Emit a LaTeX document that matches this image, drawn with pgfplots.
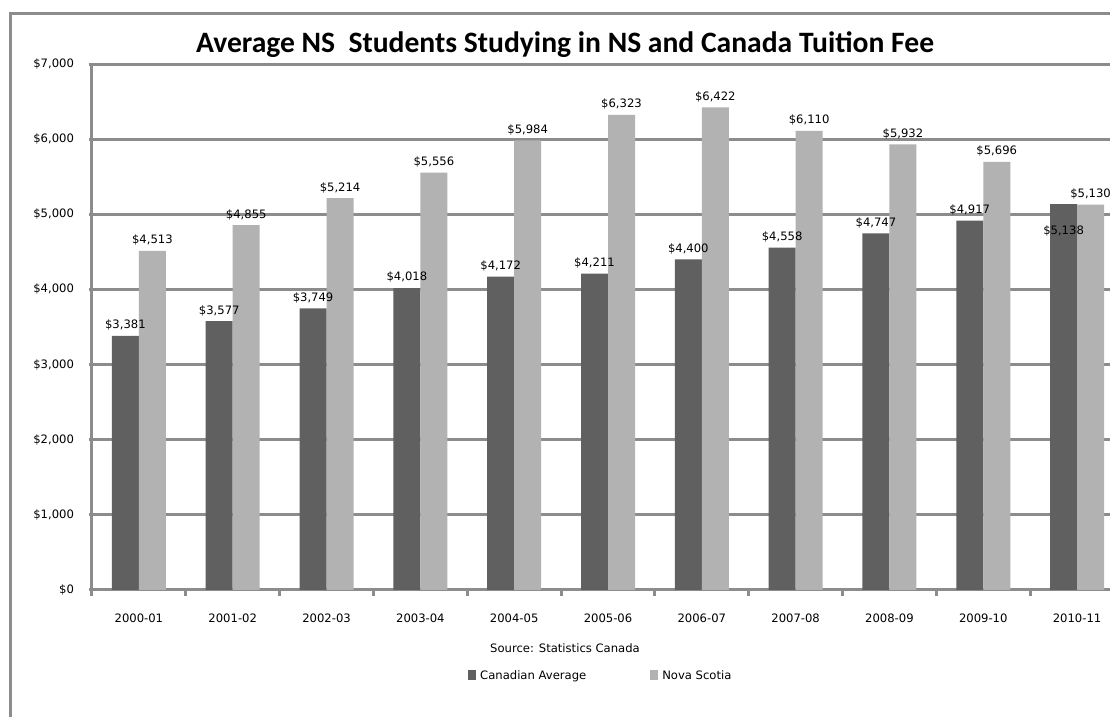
\documentclass[border=0pt]{standalone}
\usepackage{pgfplots}
\pgfplotsset{compat=1.18}
\usepackage{fontspec}
\setmainfont{DejaVu Sans}
\newfontfamily\carlito{Carlito}
\definecolor{darkbar}{HTML}{606060}
\definecolor{lightbar}{HTML}{B2B2B2}
\definecolor{gridgray}{HTML}{8C8C8C}
\begin{document}
\begin{tikzpicture}
\useasboundingbox (0pt,0pt) rectangle (555pt,358.5pt);
\clip (0pt,0pt) rectangle (555pt,358.5pt);
\fill[white] (0pt,0pt) rectangle (555pt,358.5pt);
\draw[gridgray, line width=1.5pt] (5pt,-10pt) -- (5pt,351.5pt) -- (600pt,351.5pt);
\node[font=\carlito\bfseries\fontsize{14.8}{16}\selectfont] at (282.5pt,336pt) {Average NS\ \ Students Studying in NS and Canada Tuition Fee};
\node[font=\fontsize{5.8}{7}\selectfont] at (282.5pt,34.5pt) {Source: Statistics Canada};
\begin{axis}[
  at={(46pt,63.5pt)}, anchor=south west,
  scale only axis, width=516pt, height=263pt,
  xmin=-0.5, xmax=10.5, ymin=0, ymax=7000,
  ybar, bar width=13.5pt,
  axis lines*=left,
  axis line style={gridgray, line width=1.5pt},
  ymajorgrids, grid style={gridgray, line width=1.5pt},
  ytick={0,1000,...,7000},
  yticklabel={\$\pgfmathprintnumber[1000 sep={,}]{\tick}},
  yticklabel style={font=\fontsize{5.8}{7}\selectfont, xshift=-4pt},
  ytick align=outside, major tick length=1.5pt,
  xtick={0,...,10},
  xticklabels={2000-01,2001-02,2002-03,2003-04,2004-05,2005-06,2006-07,2007-08,2008-09,2009-10,2010-11},
  xticklabel style={font=\fontsize{5.8}{7}\selectfont, yshift=-7pt},
  tick style={gridgray, line width=1.5pt},
  major x tick style={draw=none},
  minor xtick={-0.5,0.5,...,10.5},
  minor x tick style={draw=gridgray, line width=1.5pt},
  minor tick length=3pt,
  xtick align=outside,
  /pgf/number format/assume math mode=true,
  nodes near coords={\$\pgfmathprintnumber[1000 sep={,}]{\pgfplotspointmeta}},
  every node near coord/.append style={font=\fontsize{5.8}{7}\selectfont, inner sep=1pt, yshift=1.5pt, black},
  legend style={at={(0.494,-0.1654)}, anchor=center, draw=none, fill=none,
    font=\fontsize{5.8}{7}\selectfont, legend columns=2,
    /tikz/every even column/.append style={column sep=30pt}},
  legend image code/.code={\fill[#1,draw=none] (0pt,-1.5pt) rectangle (4pt,3.5pt);},
]
\addplot[fill=darkbar, draw=none, bar shift=-6.75pt] coordinates {
(0,3381) (1,3577) (2,3749) (3,4018) (4,4172) (5,4211) (6,4400) (7,4558) (8,4747) (9,4917)};
\addlegendentry{Canadian Average}
\addplot[fill=lightbar, draw=none, bar shift=6.75pt] coordinates {
(0,4513) (1,4855) (2,5214) (3,5556) (4,5984) (5,6323) (6,6422) (7,6110) (8,5932) (9,5696) (10,5130)};
\addlegendentry{Nova Scotia}
\addplot[fill=darkbar, draw=none, bar shift=-6.75pt, forget plot,
  every node near coord/.append style={anchor=north, yshift=-11pt}] coordinates {(10,5138)};
\end{axis}
\end{tikzpicture}
\end{document}
